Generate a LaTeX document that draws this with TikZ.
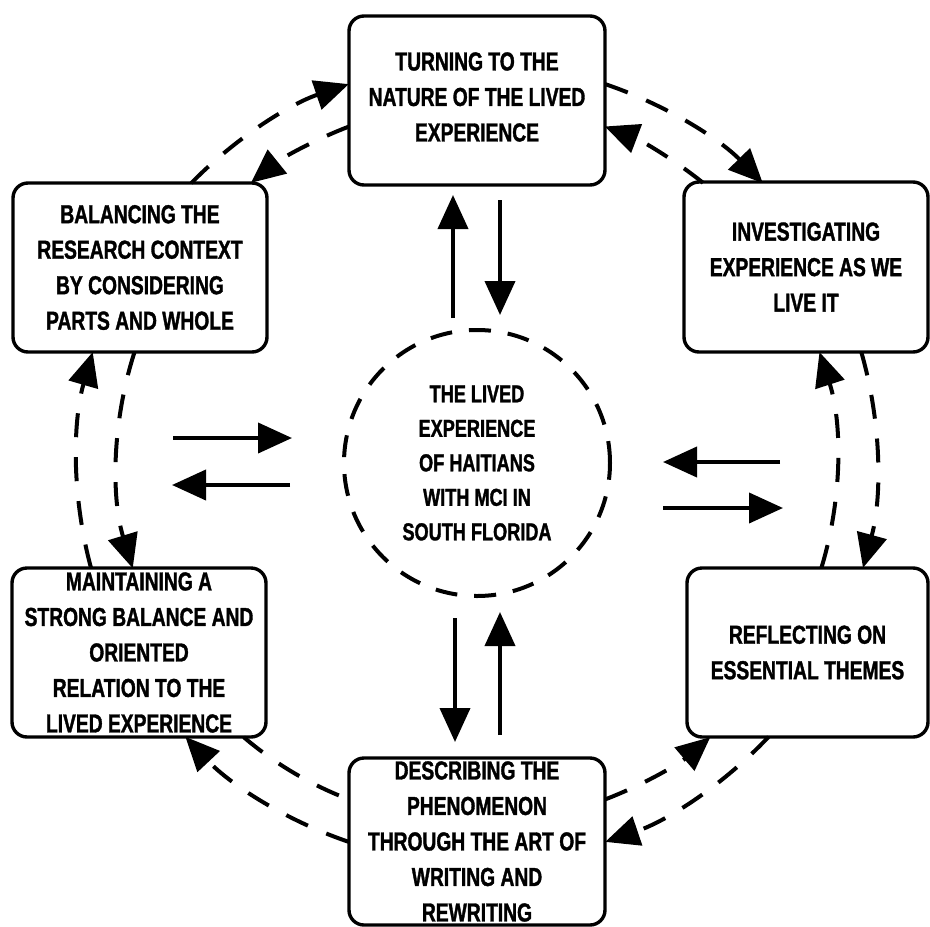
\documentclass[tikz,border=0pt]{standalone}
\usepackage{fontspec}
\setmainfont{Liberation Sans}[FakeStretch=0.74,FakeBold=1.3]
\usetikzlibrary{arrows.meta,calc}
\begin{document}
\begin{tikzpicture}[x=1pt,y=-1pt,
  boxnode/.style={draw,line width=3.4pt,rounded corners=15pt,align=center,
    font=\fontsize{26}{35.5}\selectfont\bfseries,inner sep=0pt},
  arr/.style={line width=4pt,-{Triangle[length=34pt,width=30pt]}},
  darr/.style={line width=4pt,dash pattern=on 24pt off 20pt,-{Triangle[length=34pt,width=30pt]}},
  dline/.style={line width=4pt,dash pattern=on 24pt off 20pt}]
\useasboundingbox (0,0) rectangle (930,927);
% boxes
\node[boxnode,minimum width=256pt,minimum height=169pt] (T) at (477,100.5) {};
\node[align=center,font=\fontsize{26}{35.5}\selectfont\bfseries,inner sep=0pt] (Tt) at (477,97)
  {TURNING TO THE\\NATURE OF THE LIVED\\EXPERIENCE};
\node[boxnode,minimum width=254pt,minimum height=169pt] (B) at (140,267.5)
  {BALANCING THE\\RESEARCH CONTEXT\\BY CONSIDERING\\PARTS AND WHOLE};
\node[boxnode,minimum width=244pt,minimum height=170pt] (I) at (806,267)
  {INVESTIGATING\\EXPERIENCE AS WE\\LIVE IT};
\node[boxnode,minimum width=254pt,minimum height=169pt] (M) at (139,652.5)
  {MAINTAINING A\\STRONG BALANCE AND\\ORIENTED\\RELATION TO THE\\LIVED EXPERIENCE};
\node[boxnode,minimum width=241pt,minimum height=169pt] (R) at (807.5,652.5)
  {REFLECTING ON\\ESSENTIAL THEMES};
\node[boxnode,minimum width=256pt,minimum height=167pt] (D) at (477,841.5)
  {DESCRIBING THE\\PHENOMENON\\THROUGH THE ART OF\\WRITING AND\\REWRITING};
% centre
\node[circle,draw,line width=4pt,dash pattern=on 22pt off 17pt,minimum size=266pt,
  align=center,font=\fontsize{24.5}{34.5}\selectfont\bfseries,inner sep=0pt] (C) at (477,463)
  {THE LIVED\\EXPERIENCE\\OF HAITIANS\\WITH MCI IN\\SOUTH FLORIDA};
% straight arrows
\coordinate (tu0) at ($(C)+(-24,-145)$); \coordinate (tu1) at ($(C)+(-24,-268)$);
\coordinate (td0) at ($(C)+(23,-263)$);  \coordinate (td1) at ($(C)+(23,-148)$);
\coordinate (bd0) at ($(C)+(-22,155)$);  \coordinate (bd1) at ($(C)+(-22,279)$);
\coordinate (bu0) at ($(C)+(23,272)$);   \coordinate (bu1) at ($(C)+(23,149)$);
\coordinate (lr0) at ($(C)+(-304,-25)$); \coordinate (lr1) at ($(C)+(-185,-25)$);
\coordinate (ll0) at ($(C)+(-187,22)$);  \coordinate (ll1) at ($(C)+(-305,22)$);
\coordinate (rl0) at ($(C)+(303,-1)$);   \coordinate (rl1) at ($(C)+(186,-1)$);
\coordinate (rr0) at ($(C)+(186,45)$);   \coordinate (rr1) at ($(C)+(306,45)$);
\draw[arr] (tu0) -- (tu1);
\draw[arr] (td0) -- (td1);
\draw[arr] (bd0) -- (bd1);
\draw[arr] (bu0) -- (bu1);
\draw[arr] (lr0) -- (lr1);
\draw[arr] (ll0) -- (ll1);
\draw[arr] (rl0) -- (rl1);
\draw[arr] (rr0) -- (rr1);
% outer ring (clockwise)
\draw[darr] ($(C)+(-135.6:400)$) arc[start angle=-135.6,end angle=-108.7,radius=400];
\draw[darr] ($(C)+(-71.3:400)$) arc[start angle=-71.3,end angle=-44.4,radius=400];
\draw[darr] ($(C)+(-16.1:400)$) arc[start angle=-16.1,end angle=15.2,radius=400];
\draw[darr] ($(C)+(43.2:400)$) arc[start angle=43.2,end angle=71.3,radius=400];
\draw[darr] ($(C)+(108.7:400)$) arc[start angle=108.7,end angle=136.8,radius=400];
\draw[darr] ($(C)+(164.8:400)$) arc[start angle=164.8,end angle=196.1,radius=400];
% inner ring (counter-clockwise)
\draw[darr] ($(C)+(-110.8:360)$) arc[start angle=-110.8,end angle=-128.9,radius=360];
\draw[darr] ($(C)+(-51.1:360)$) arc[start angle=-51.1,end angle=-69.2,radius=360];
\draw[darr] ($(C)+(17.0:360)$) arc[start angle=17.0,end angle=-17.95,radius=360];
\draw[darr] ($(C)+(69.2:360)$) arc[start angle=69.2,end angle=49.6,radius=360];
\draw[dline] ($(C)+(130.4:360)$) arc[start angle=130.4,end angle=110.8,radius=360];
\draw[darr] ($(C)+(197.95:360)$) arc[start angle=197.95,end angle=163,radius=360];
\end{tikzpicture}
\end{document}
